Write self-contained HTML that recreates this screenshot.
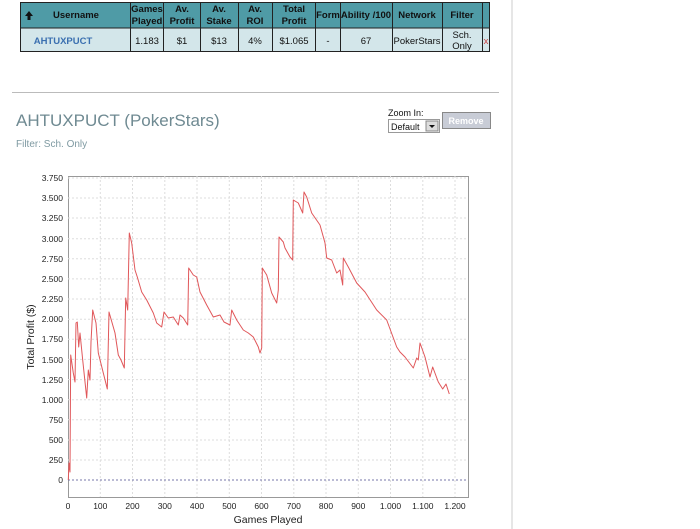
<!DOCTYPE html><html><head><style>body{margin:0;background:#fff}svg{display:block}</style></head><body>
<svg width="700" height="529" xmlns="http://www.w3.org/2000/svg" font-family="Liberation Sans, sans-serif">
<rect width="700" height="529" fill="#fff"/>
<line x1="512" y1="0" x2="512" y2="529" stroke="#ccc"/>
<rect x="20" y="2" width="470" height="26" fill="#4f9ba6"/>
<rect x="20" y="28" width="470" height="24" fill="#d3e6ea"/>
<rect x="20.5" y="2.5" width="469" height="49" fill="none" stroke="#222"/>
<line x1="20" y1="28" x2="490" y2="28" stroke="#222"/>
<g stroke="#222">
<line x1="130.5" y1="2" x2="130.5" y2="52"/><line x1="163.5" y1="2" x2="163.5" y2="52"/><line x1="200.5" y1="2" x2="200.5" y2="52"/><line x1="238.5" y1="2" x2="238.5" y2="52"/><line x1="272.5" y1="2" x2="272.5" y2="52"/><line x1="315.5" y1="2" x2="315.5" y2="52"/><line x1="340.5" y1="2" x2="340.5" y2="52"/><line x1="392.5" y1="2" x2="392.5" y2="52"/><line x1="442.5" y1="2" x2="442.5" y2="52"/><line x1="482.5" y1="2" x2="482.5" y2="52"/>
</g>
<g font-size="9.5" font-weight="bold" fill="#111" text-anchor="middle">
<text x="76" y="18">Username</text>
<text x="147" y="12">Games</text><text x="147" y="24">Played</text>
<text x="182" y="12">Av.</text><text x="182" y="24">Profit</text>
<text x="219" y="12">Av.</text><text x="219" y="24">Stake</text>
<text x="255" y="12">Av.</text><text x="255" y="24">ROI</text>
<text x="294" y="12">Total</text><text x="294" y="24">Profit</text>
<text x="328" y="18">Form</text>
<text x="366" y="18">Ability /100</text>
<text x="417" y="18">Network</text>
<text x="462" y="18">Filter</text>
</g>
<path d="M25 16 L29 11 L33 16 Z M27.5 16 h3 v4 h-3z" fill="#111"/>
<g font-size="9.5" fill="#111" text-anchor="middle">
<text x="63" y="44" fill="#3a6fb0" font-weight="bold">AHTUXPUCT</text>
<text x="147" y="44">1.183</text><text x="182" y="44">$1</text><text x="219" y="44">$13</text><text x="255" y="44">4%</text><text x="294" y="44">$1.065</text><text x="328" y="44">-</text><text x="366" y="44">67</text><text x="417" y="44">PokerStars</text><text x="462" y="38">Sch.</text><text x="462" y="49">Only</text><text x="486" y="44" fill="#c44">x</text>
</g>
<line x1="12" y1="92.5" x2="499" y2="92.5" stroke="#bbb"/>
<text x="16" y="126" font-size="17" fill="#6f8a92">AHTUXPUCT (PokerStars)</text>
<text x="16" y="147" font-size="10" fill="#7f9aa2">Filter: Sch. Only</text>
<text x="388" y="116" font-size="9" fill="#111">Zoom In:</text>
<rect x="388.5" y="119.5" width="51" height="13" fill="#fff" stroke="#999"/>
<text x="391" y="130" font-size="9" fill="#111">Default</text>
<rect x="426" y="121" width="12" height="10" fill="#ddd" stroke="#888"/>
<path d="M429 125 h6 l-3 3z" fill="#111"/>
<rect x="442.5" y="112.5" width="48" height="16" fill="#c8ccd6" stroke="#888"/>
<text x="466" y="124" font-size="9" fill="#fff" text-anchor="middle" font-weight="bold">Remove</text>
<rect x="68.5" y="176.5" width="400" height="321" fill="#fff" stroke="#999"/>
<g stroke="#ddd" stroke-dasharray="2,2">
<line x1="68" y1="178" x2="468" y2="178"/><line x1="68" y1="198" x2="468" y2="198"/><line x1="68" y1="218" x2="468" y2="218"/><line x1="68" y1="238.7" x2="468" y2="238.7"/><line x1="68" y1="258.8" x2="468" y2="258.8"/><line x1="68" y1="278.9" x2="468" y2="278.9"/><line x1="68" y1="299" x2="468" y2="299"/><line x1="68" y1="319.2" x2="468" y2="319.2"/><line x1="68" y1="339.3" x2="468" y2="339.3"/><line x1="68" y1="359.4" x2="468" y2="359.4"/><line x1="68" y1="379.6" x2="468" y2="379.6"/><line x1="68" y1="399.7" x2="468" y2="399.7"/><line x1="68" y1="419.8" x2="468" y2="419.8"/><line x1="68" y1="440" x2="468" y2="440"/><line x1="68" y1="460" x2="468" y2="460"/>
<line x1="100.3" y1="176" x2="100.3" y2="497"/><line x1="132.5" y1="176" x2="132.5" y2="497"/><line x1="164.8" y1="176" x2="164.8" y2="497"/><line x1="197" y1="176" x2="197" y2="497"/><line x1="229.3" y1="176" x2="229.3" y2="497"/><line x1="261.5" y1="176" x2="261.5" y2="497"/><line x1="293.8" y1="176" x2="293.8" y2="497"/><line x1="326" y1="176" x2="326" y2="497"/><line x1="358.3" y1="176" x2="358.3" y2="497"/><line x1="390.5" y1="176" x2="390.5" y2="497"/><line x1="422.8" y1="176" x2="422.8" y2="497"/><line x1="455" y1="176" x2="455" y2="497"/>
</g>
<line x1="68" y1="480" x2="468" y2="480" stroke="#7777aa" stroke-dasharray="2,2"/>
<g font-size="8.5" fill="#222" text-anchor="end">
<text x="63" y="181">3.750</text><text x="63" y="201">3.500</text><text x="63" y="221">3.250</text><text x="63" y="242">3.000</text><text x="63" y="262">2.750</text><text x="63" y="282">2.500</text><text x="63" y="302">2.250</text><text x="63" y="322">2.000</text><text x="63" y="342">1.750</text><text x="63" y="363">1.500</text><text x="63" y="383">1.250</text><text x="63" y="403">1.000</text><text x="63" y="423">750</text><text x="63" y="443">500</text><text x="63" y="463">250</text><text x="63" y="483">0</text>
</g>
<g font-size="8.5" fill="#222" text-anchor="middle">
<text x="68" y="509">0</text><text x="100.3" y="509">100</text><text x="132.5" y="509">200</text><text x="164.8" y="509">300</text><text x="197" y="509">400</text><text x="229.3" y="509">500</text><text x="261.5" y="509">600</text><text x="293.8" y="509">700</text><text x="326" y="509">800</text><text x="358.3" y="509">900</text><text x="390.5" y="509">1.000</text><text x="422.8" y="509">1.100</text><text x="455" y="509">1.200</text>
</g>
<text x="268" y="523" font-size="10.5" fill="#222" text-anchor="middle">Games Played</text>
<text transform="translate(34,337) rotate(-90)" font-size="10.5" fill="#222" text-anchor="middle">Total Profit ($)</text>
<polyline fill="none" stroke="#e0575a" stroke-width="1" stroke-linejoin="round" points="68.3,480 69,463 70,472 70.7,355 73.3,373 75,382 76,323 77.3,322 78.7,347 80,333 82.7,360 86.7,398 88.3,370 90,380 91,342 92.7,310 96,323 98.3,353 103.3,373 107.3,389 109,312 115,333 118.3,355 121,360 124.3,368 125.7,298 127.7,310 129.3,233 131.7,243 135,270 137.3,277 141.7,292 146.7,300 153.3,313 156.7,323 161.7,327 164,312 168.3,318 173.3,317 178.3,325 180,315 183.3,318 187.7,325 188.7,268 193.3,275 196.7,277 200,292 206.7,305 213.3,317 220,315 224,322 230,325 231.7,310 236.7,320 243.3,330 248.3,333 253.3,337 258.3,347 260,353 261.7,348 262.3,268 266.7,275 271.7,293 276.7,303 278.3,290 279,237 283.3,242 285,248 290,257 292.7,260 293.3,200 298.3,203 302.7,213 304,192 306.7,197 311.7,213 320,225 325,243 326.7,258 331.7,260 336.7,273 340,270 342.7,285 343.3,258 348.3,267 356.7,283 365,292 376.7,310 386.7,320 396.7,347 400,352 405,357 413.3,368 416.7,358 418.3,360 420,343 425,357 430,377 432.7,367 438.3,382 442.7,389 446,384 449.3,394"/>
</svg>
</body></html>
